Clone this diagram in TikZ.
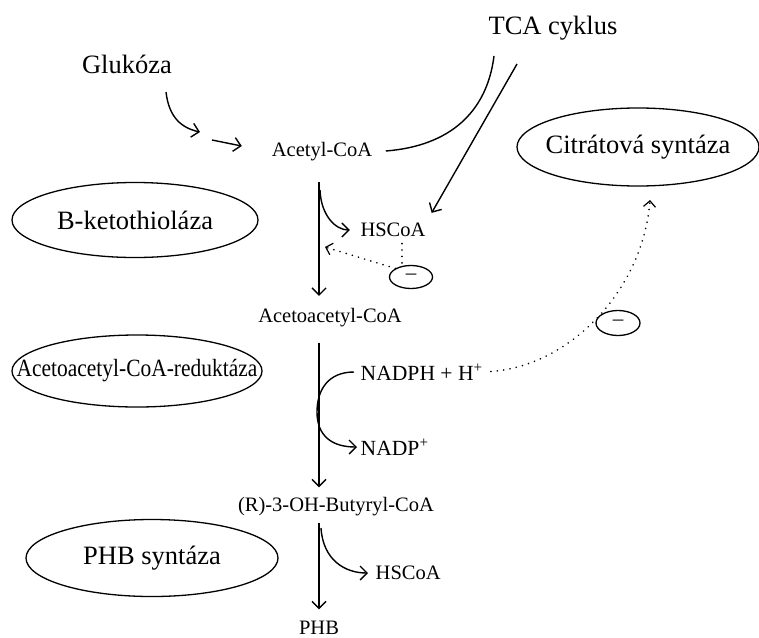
\documentclass[tikz,border=0pt]{standalone}
\usepackage{fontspec}
\setmainfont{Liberation Serif}
\usetikzlibrary{arrows.meta, positioning, calc, shapes.geometric}

\newcommand{\enzname}[1]{\makebox[0pt]{#1}}

\begin{document}
\begin{tikzpicture}[x=0.5pt, y=-0.5pt, line width=0.7pt,
    >={Straight Barb[length=3.5pt, width=7pt]},
    bigtext/.style={inner sep=0pt, font=\fontsize{13.25}{15}\selectfont},
    metab/.style={inner sep=0pt, font=\fontsize{10.25}{12}\selectfont},
    cofactor/.style={inner sep=0pt, anchor=west, font=\fontsize{10.8}{13}\selectfont},
    enzyme/.style={draw, ellipse, inner sep=0pt, line width=0.65pt, font=\fontsize{13.25}{15}\selectfont},
    inhib/.style={draw, ellipse, inner sep=0pt, line width=0.65pt, minimum width=21.5pt, minimum height=11.5pt, font=\fontsize{10.5}{11}\selectfont},
    flow/.style={->},
    regline/.style={line width=0.9pt, dash pattern=on 0.01pt off 3.2pt, line cap=round},
    regul/.style={regline, -{Straight Barb[length=3pt, width=6pt, line width=0.6pt]}}]
    \useasboundingbox (0,0) rectangle (759,637);

    % Labels and metabolites
    \node[bigtext] (glu) at (127,64) {Glukóza};
    \node[bigtext] (tca) at (553,28) {TCA cyklus};
    \node[metab] (acetyl) at (322,152) {Acetyl-CoA};
    \node[metab] (hscoa1) at (393,230) {HSCoA};
    \node[metab] (acac) at (330,318) {Acetoacetyl-CoA};
    \node[cofactor] (nadph) at (360,372) {NADPH + H\textsuperscript{+}};
    \node[cofactor] (nadp) at (360,447) {NADP\textsuperscript{+}};
    \node[metab] (hb) at (336,507) {(R)-3-OH-Butyryl-CoA};
    \node[metab, anchor=west] (hscoa2) at (375,573) {HSCoA};
    \node[metab] (phb) at (319,628) {PHB};

    % Enzymes
    \node[enzyme, minimum width=121pt, minimum height=39pt] (cs) at (638,147) {\enzname{Citrátová syntáza}};
    \node[enzyme, minimum width=123pt, minimum height=37.5pt] (bkt) at (135,220) {\enzname{B-ketothioláza}};
    \node[enzyme, minimum width=125pt, minimum height=36pt, font=\fontsize{12.4}{14}\selectfont] (aar) at (137,371) {\enzname{\scalebox{0.865}[1]{Acetoacetyl-CoA-reduktáza}}};
    \node[enzyme, minimum width=126pt, minimum height=38.5pt] (phbs) at (152,558) {\enzname{PHB syntáza}};

    % Inhibition marks
    \node[inhib] (minus1) at (411,277) {\textendash};
    \node[inhib, minimum width=22pt, minimum height=12.5pt] (minus2) at (618,323) {\textendash};

    % Free ends
    \coordinate (glustart) at (166,92);
    \coordinate (gluend) at (200,132);
    \coordinate (acin) at (212,140);
    \coordinate (tcaout) at (494,56);
    \coordinate (tcain) at (517,64);
    \coordinate (axis) at (319,0);
    \coordinate (fork1) at (320,190);
    \coordinate (fork2) at (317,412);
    \coordinate (fork3) at (321,528);
    \coordinate (inh1) at (325,247);
    \coordinate (csin) at (650,200);

    % Glucose and TCA
    \draw[flow] (glustart) .. controls (169,118) and (182,128) .. (gluend);
    \draw[flow, shorten >=15pt] (acin) -- (acetyl.west);
    \draw[shorten <=6.5pt] (acetyl.east) .. controls (450,146) and (487,112) .. (tcaout);
    \draw[flow, shorten >=5.5pt] (tcain) -- (hscoa1.north east);

    % Main pathway
    \draw[flow, shorten <=10pt, shorten >=6pt] (acetyl.south -| axis) -- (acac.north -| axis);
    \draw[flow, shorten <=7.3pt, shorten >=4.8pt] (acac.south -| axis) -- (hb.north -| axis);
    \draw[flow, shorten <=2.9pt, shorten >=5.6pt] (hb.south -| axis) -- (phb.north -| axis);

    % Side products
    \draw[flow, shorten >=5pt] (fork1) .. controls (321,216) and (336,230) .. (hscoa1.west);
    \draw[flow, shorten <=3pt, shorten >=1.5pt] (nadph.west) .. controls (328,372) and (317,390) .. (fork2)
        .. controls (317,436) and (332,447) .. (nadp.west);
    \draw[flow, shorten >=3.5pt] (fork3) .. controls (323,560) and (345,573) .. (hscoa2.west);

    % Regulation
    \draw[regul] (minus1.north west) -- (inh1);
    \draw[regline] ($(hscoa1.south)+(9,6)$) -- ($(minus1.north)+(-9,1)$);
    \draw[regul, shorten <=3.5pt] (nadph.east) .. controls (570,366) and (643,290) .. (csin);
\end{tikzpicture}
\end{document}
